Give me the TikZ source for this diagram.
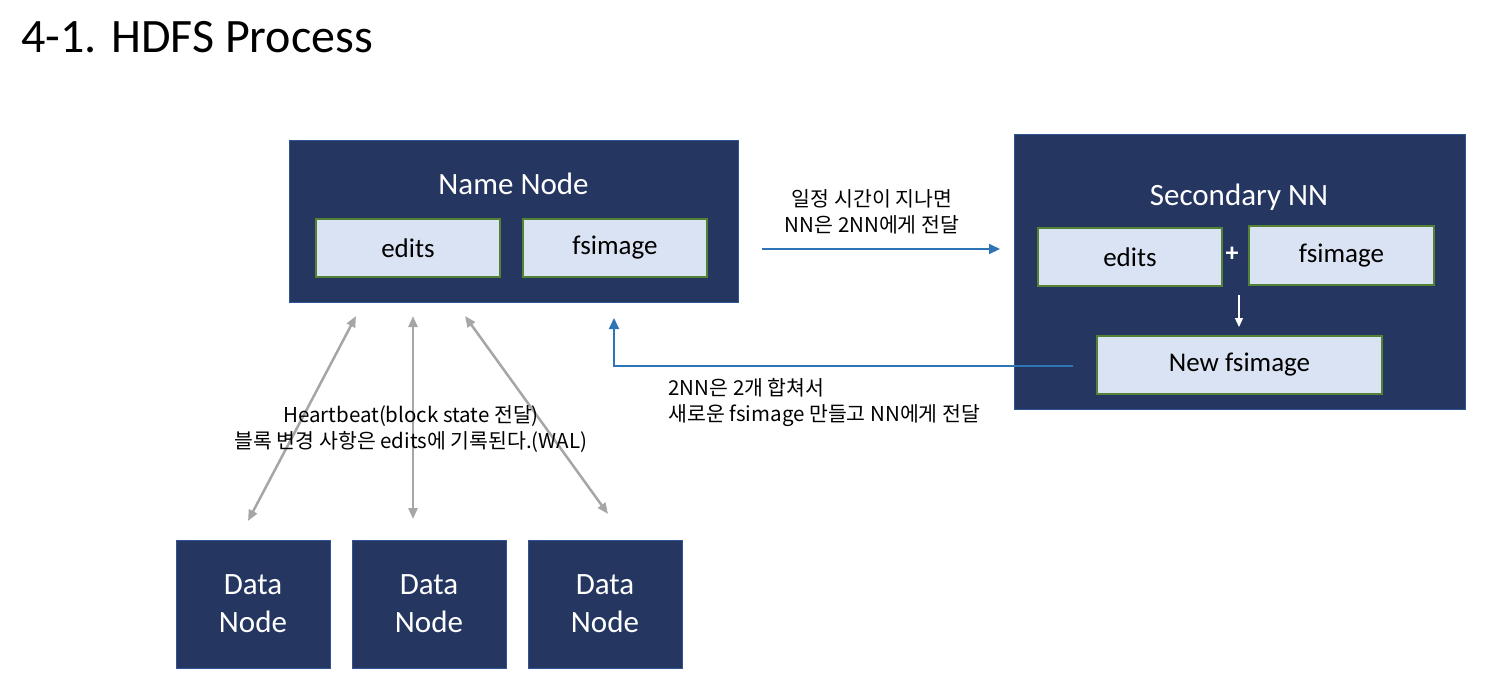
\documentclass[tikz,border=0pt]{standalone}
\usepackage{fontspec}
\setmainfont{Carlito}
\newfontfamily\kr{Noto Sans CJK KR}
\usetikzlibrary{arrows.meta,positioning}
\definecolor{navy}{HTML}{253761}
\definecolor{navyedge}{HTML}{2F5597}
\definecolor{lightbox}{HTML}{DAE3F3}
\definecolor{greenedge}{HTML}{548235}
\definecolor{bluearrow}{HTML}{2E75B6}
\definecolor{greyarrow}{HTML}{A6A6A6}
\tikzset{
  darkbox/.style={draw=navyedge, line width=1pt, fill=navy, inner sep=0pt},
  itembox/.style={draw=greenedge, line width=1.5pt, fill=lightbox, inner sep=0pt, font=\fontsize{27}{32}\selectfont},
  whitetitle/.style={text=white, font=\fontsize{31}{36}\selectfont},
  datatext/.style={text=white, font=\fontsize{31}{38}\selectfont, align=center},
  lbl/.style={font=\kr\fontsize{20.5}{26}\selectfont, text=black},
  bluearr/.style={draw=bluearrow, line width=2pt, -{Triangle[length=11pt,width=10pt]}},
  greyarr/.style={draw=greyarrow, line width=2.5pt, {Triangle[length=11pt,width=9pt]}-{Triangle[length=11pt,width=9pt]}},
  whitearr/.style={draw=white, line width=1.2pt, -{Triangle[length=9pt,width=8pt]}}
}
\begin{document}
\begin{tikzpicture}[x=1pt,y=-1pt]
\useasboundingbox (0,0) rectangle (1500,694);
% title
\node[anchor=west, font=\fontsize{48}{54}\selectfont] (title) at (18,37) {4-1. HDFS Process};
% name node
\node[darkbox, minimum width=449pt, minimum height=162pt] (nn) at (513.5,221) {};
\node[whitetitle] (nnt) at (513.5,184) {Name Node};
\node[itembox, minimum width=184pt, minimum height=58pt] (ed1) at (408,248) {edits};
\node[itembox, minimum width=184pt, minimum height=58pt] (fs1) at (615,248) {fsimage};
% secondary
\node[darkbox, minimum width=451pt, minimum height=275pt] (snn) at (1239.5,271.5) {};
\node[whitetitle] (snnt) at (1239,197) {Secondary NN};
\node[itembox, minimum width=184pt, minimum height=58pt] (ed2) at (1130,257) {edits};
\node[itembox, minimum width=185pt, minimum height=59pt] (fs2) at (1341.5,255.5) {fsimage};
\node[text=white, font=\fontsize{26}{30}\selectfont\bfseries, inner sep=0pt] (plus) at (1232,254) {+};
\node[itembox, minimum width=285pt, minimum height=58pt] (nfs) at (1239.5,365) {New fsimage};
\coordinate (wa1) at (1239,295);
\coordinate (wa2) at (1239,327);
\draw[whitearr] (wa1) -- (wa2);
% blue arrows
\coordinate (b1s) at (762,249);
\coordinate (b1e) at (1000,249);
\draw[bluearr] (b1s) -- (b1e);
\node[lbl, align=center] (l1) at (872,212) {일정 시간이 지나면\\NN은 2NN에게 전달};
\coordinate (b2s) at (1073,366);
\coordinate (b2e) at (614,318);
\draw[bluearr] (b2s) -| (b2e);
\node[lbl, align=left, anchor=west] (l2) at (665,402) {2NN은 2개 합쳐서\\새로운 fsimage 만들고 NN에게 전달};
% data nodes
\node[darkbox, minimum width=154pt, minimum height=128pt] (d1) at (253,604) {};
\node[datatext] (d1t) at (253,604) {Data\\Node};
\node[darkbox, minimum width=154pt, minimum height=128pt] (d2) at (429,604) {};
\node[datatext] (d2t) at (429,604) {Data\\Node};
\node[darkbox, minimum width=154pt, minimum height=128pt] (d3) at (605,604) {};
\node[datatext] (d3t) at (605,604) {Data\\Node};
% grey arrows
\coordinate (g1a) at (356,316);
\coordinate (g1b) at (248,521);
\coordinate (g2a) at (413,316);
\coordinate (g2b) at (413,519);
\coordinate (g3a) at (465,316);
\coordinate (g3b) at (608,514);
\draw[greyarr] (g1a) -- (g1b);
\draw[greyarr] (g2a) -- (g2b);
\draw[greyarr] (g3a) -- (g3b);
\node[lbl, align=center] (l3) at (411,429) {Heartbeat(block state 전달)\\블록 변경 사항은 edits에 기록된다.(WAL)};
\end{tikzpicture}
\end{document}
